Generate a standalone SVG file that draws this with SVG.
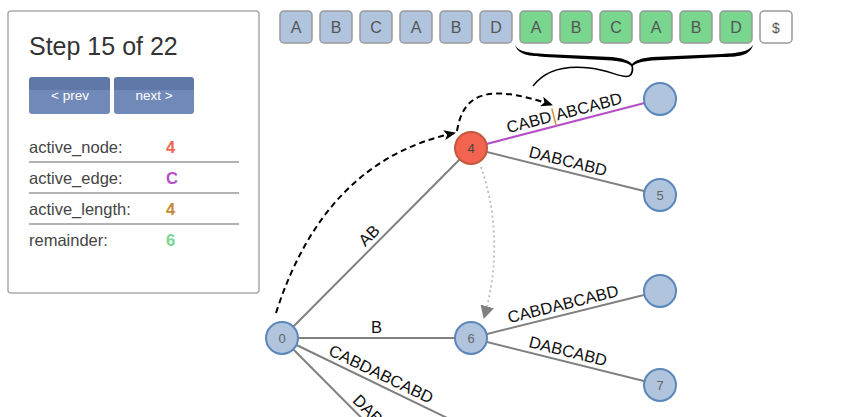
<svg xmlns="http://www.w3.org/2000/svg" width="858" height="417" viewBox="0 0 858 417">
<defs>
<style>
text{font-family:"Liberation Sans",Arial,sans-serif}
.panel{fill:#fff;stroke:#aaa;stroke-width:1.5}
.title{font-size:25px;fill:#333}
.btn-t{font-size:13.5px;fill:#fff;text-anchor:middle}
.lbl{font-size:16.5px;fill:#444}
.val{font-size:16.5px;font-weight:bold}
.sep{stroke:#999;stroke-width:1.5}
.ch rect{stroke:#999;stroke-width:1.5}
.ch text{font-size:16px;fill:#555;text-anchor:middle}
.blue{fill:#b0c4de}
.green{fill:#78d68f}
.white{fill:#fff}
.edge{stroke:#808080;stroke-width:2;fill:none}
.active{stroke:#b54fc6}
.elbl{font-size:16.5px;fill:#111;text-anchor:middle}
.node circle{fill:#b0c4de;stroke:#5b86ba;stroke-width:2}
.node text{font-size:13px;fill:#666;text-anchor:middle}
#n4 circle{fill:#f2644f;stroke:#c4573f}
#n4 text{fill:#444}
.dash{stroke:#000;stroke-width:2;fill:none;stroke-dasharray:6,4}
.dot{stroke:#bbb;stroke-width:1.8;fill:none;stroke-dasharray:2,3}
</style>
<linearGradient id="btnG" x1="0" y1="0" x2="0" y2="1">
<stop offset="0" stop-color="#5f78a8"/>
<stop offset="0.35" stop-color="#5f78a8"/>
<stop offset="0.36" stop-color="#7089b8"/>
<stop offset="1" stop-color="#7089b8"/>
</linearGradient>
<marker id="ah" markerWidth="12" markerHeight="10" refX="11" refY="5" orient="auto" markerUnits="userSpaceOnUse">
<path d="M0,0 L12,5 L0,10 L3,5 Z" fill="#000"/>
</marker>
<marker id="ahg" markerWidth="14" markerHeight="14" refX="12" refY="7" orient="auto" markerUnits="userSpaceOnUse">
<path d="M0,0 L13,7 L0,14 Z" fill="#808080"/>
</marker>
</defs>
<rect width="858" height="417" fill="#fff"/>

<g id="panel">
<rect class="panel" x="8" y="11" width="251" height="282" rx="3"/>
<text class="title" x="29" y="55">Step 15 of 22</text>
<g id="prev">
<rect x="29" y="77" width="81" height="37" rx="3" fill="url(#btnG)"/>
<text class="btn-t" x="70" y="100">&lt; prev</text>
</g>
<g id="next">
<rect x="114" y="77" width="80" height="37" rx="3" fill="url(#btnG)"/>
<text class="btn-t" x="154" y="100">next &gt;</text>
</g>
<text class="lbl" x="29" y="153">active_node:</text>
<text class="val" x="166" y="153" fill="#f06450">4</text>
<line class="sep" x1="29" y1="162" x2="239" y2="162"/>
<text class="lbl" x="29" y="184">active_edge:</text>
<text class="val" x="166" y="184" fill="#b54fc6">C</text>
<line class="sep" x1="29" y1="193" x2="239" y2="193"/>
<text class="lbl" x="29" y="215">active_length:</text>
<text class="val" x="166" y="215" fill="#c48a35">4</text>
<line class="sep" x1="29" y1="224" x2="239" y2="224"/>
<text class="lbl" x="29" y="246">remainder:</text>
<text class="val" x="166" y="246" fill="#78d68f">6</text>
</g>

<g id="string" class="ch">
<rect class="blue" x="280" y="11" width="32" height="32" rx="4"/><text x="296" y="33">A</text>
<rect class="blue" x="320" y="11" width="32" height="32" rx="4"/><text x="336" y="33">B</text>
<rect class="blue" x="360" y="11" width="32" height="32" rx="4"/><text x="376" y="33">C</text>
<rect class="blue" x="400" y="11" width="32" height="32" rx="4"/><text x="416" y="33">A</text>
<rect class="blue" x="440" y="11" width="32" height="32" rx="4"/><text x="456" y="33">B</text>
<rect class="blue" x="480" y="11" width="32" height="32" rx="4"/><text x="496" y="33">D</text>
<rect class="green" x="520" y="11" width="32" height="32" rx="4"/><text x="536" y="33">A</text>
<rect class="green" x="560" y="11" width="32" height="32" rx="4"/><text x="576" y="33">B</text>
<rect class="green" x="600" y="11" width="32" height="32" rx="4"/><text x="616" y="33">C</text>
<rect class="green" x="640" y="11" width="32" height="32" rx="4"/><text x="656" y="33">A</text>
<rect class="green" x="680" y="11" width="32" height="32" rx="4"/><text x="696" y="33">B</text>
<rect class="green" x="720" y="11" width="32" height="32" rx="4"/><text x="736" y="33">D</text>
<rect class="white" x="760" y="11" width="32" height="32" rx="4"/><text x="776" y="33" style="font-size:14px">$</text>
</g>

<g id="brace">
<path d="M515,45 C518,52 530,53 545,54 L612,57 C622,58 628,60 632,64 C636,60 642,58 652,57 L722,54 C737,53 749,52 753,45 C750,56 737,57 722,57 L652,60.5 C641,61.5 635,63 632,67 C629,63 623,61.5 612,60.5 L545,57 C530,56 518,55 515,45 Z" fill="#000"/>
<path d="M533,86 C545,70 565,65 590,68 C610,70 622,79 629,76 C633,74 633,70 632,64" fill="none" stroke="#000" stroke-width="1.5"/>
</g>

<g id="connectors">
<line class="edge" x1="282" y1="338" x2="471" y2="148"/>
<line class="edge" x1="282" y1="338" x2="471" y2="338"/>
<line class="edge" x1="282" y1="338" x2="471" y2="429.5"/>
<line class="edge" x1="282" y1="338" x2="471" y2="528"/>
<line class="edge active" x1="471" y1="148" x2="660" y2="99"/>
<line class="edge" x1="471" y1="148" x2="660" y2="195"/>
<line class="edge" x1="471" y1="338" x2="660" y2="291"/>
<line class="edge" x1="471" y1="338" x2="660" y2="385"/>

<text class="elbl" transform="translate(376.5,243) rotate(-45)" y="-5">AB</text>
<text class="elbl" x="376.5" y="333">B</text>
<text class="elbl" transform="translate(376.5,383.7) rotate(25.83)" y="-5">CABDABCABD</text>
<text class="elbl" transform="translate(376.5,433) rotate(45)" y="-5">DABCABD</text>
<g transform="translate(565.5,123.5) rotate(-14.54)">
<text class="elbl" x="-12" y="-5" style="text-anchor:end">CABD</text>
<line x1="-9.5" y1="-18" x2="-9.5" y2="0" stroke="#d0903a" stroke-width="1.5"/>
<text class="elbl" x="-7" y="-5" style="text-anchor:start">ABCABD</text>
</g>
<text class="elbl" transform="translate(565.5,171.5) rotate(13.97)" y="-5">DABCABD</text>
<text class="elbl" transform="translate(565.5,314.5) rotate(-13.97)" y="-5">CABDABCABD</text>
<text class="elbl" transform="translate(565.5,361.5) rotate(13.97)" y="-5">DABCABD</text>

<path class="dash" d="M276,313 Q325,160 455,133" marker-end="url(#ah)"/>
<path class="dash" d="M457,131 C463,95 485,82 552,105" marker-end="url(#ah)"/>
<path class="dot" d="M481,167 Q506,240 484,318" marker-end="url(#ahg)"/>
</g>

<g id="n0" class="node"><circle cx="282" cy="338" r="16"/><text x="282" y="343">0</text></g>
<g id="n4" class="node"><circle cx="471" cy="148" r="16"/><text x="471" y="153">4</text></g>
<g id="n4a" class="node"><circle cx="660" cy="99" r="16"/></g>
<g id="n5" class="node"><circle cx="660" cy="195" r="16"/><text x="660" y="200">5</text></g>
<g id="n6" class="node"><circle cx="471" cy="338" r="16"/><text x="471" y="343">6</text></g>
<g id="n6a" class="node"><circle cx="660" cy="291" r="16"/></g>
<g id="n7" class="node"><circle cx="660" cy="385" r="16"/><text x="660" y="390">7</text></g>
</svg>
